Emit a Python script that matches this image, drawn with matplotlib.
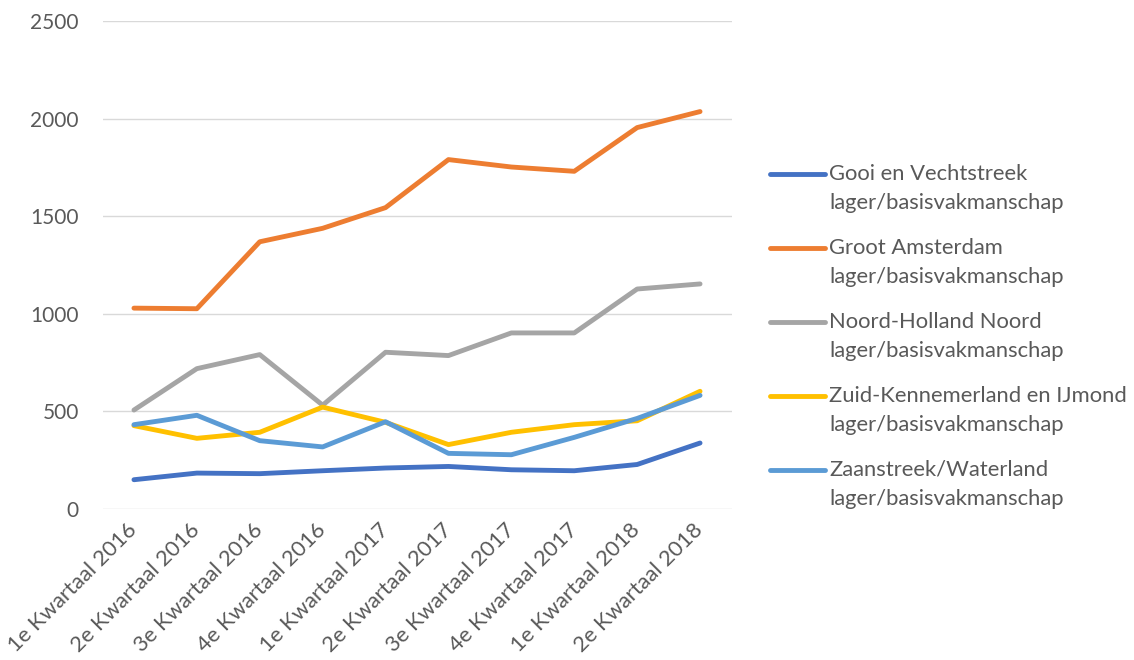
import matplotlib
matplotlib.use("Agg")
import matplotlib.pyplot as plt
from matplotlib.lines import Line2D
import numpy as np

plt.rcParams['font.family'] = ['Lato', 'DejaVu Sans']

categories = ["1e Kwartaal 2016", "2e Kwartaal 2016", "3e Kwartaal 2016", "4e Kwartaal 2016",
              "1e Kwartaal 2017", "2e Kwartaal 2017", "3e Kwartaal 2017", "4e Kwartaal 2017",
              "1e Kwartaal 2018", "2e Kwartaal 2018"]

gooi = [150, 184, 181, 196, 210, 218, 201, 196, 228, 338]
groot_amsterdam = [1029, 1026, 1369, 1438, 1544, 1790, 1752, 1730, 1954, 2036]
noord_holland = [507, 719, 791, 532, 803, 786, 902, 902, 1127, 1153]
zuid_kennemerland = [427, 362, 393, 522, 444, 330, 393, 432, 452, 603]
zaanstreek = [432, 480, 350, 318, 447, 285, 278, 367, 464, 582]

series_names = ["Gooi en Vechtstreek\nlager/basisvakmanschap",
                "Groot Amsterdam\nlager/basisvakmanschap",
                "Noord-Holland Noord\nlager/basisvakmanschap",
                "Zuid-Kennemerland en IJmond\nlager/basisvakmanschap",
                "Zaanstreek/Waterland\nlager/basisvakmanschap"]
series = [gooi, groot_amsterdam, noord_holland, zuid_kennemerland, zaanstreek]
colors = ["#4472C4", "#ED7D31", "#A5A5A5", "#FFC000", "#5B9BD5"]

yticks = [0, 500, 1000, 1500, 2000, 2500]

W, H = 1134, 660
fig = plt.figure(figsize=(W / 100, H / 100), dpi=100)
ax = fig.add_axes([102.5 / W, 1 - 509 / H, (731.5 - 102.5) / W, (509 - 21) / H])

x = np.arange(len(categories))
for vals, c in zip(series, colors):
    ax.plot(x, vals, color=c, lw=3.5, solid_capstyle='round', solid_joinstyle='round', zorder=3)

ax.set_xlim(-0.5, len(categories) - 0.5)
ax.set_ylim(0, 2500)
ax.set_yticks(yticks)
ax.set_yticklabels([str(v) for v in yticks])
ax.grid(axis='y', color='#D9D9D9', lw=1.0)
ax.set_axisbelow(True)
for s in ax.spines.values():
    s.set_visible(False)
ax.tick_params(axis='y', length=0, colors='#595959', labelsize=15, pad=17)
ax.tick_params(axis='x', length=0, colors='#595959', labelsize=15.8, pad=13)
ax.set_xticks(x)
ax.set_xticklabels(categories, rotation=45, ha='right', va='center', rotation_mode='anchor')

# legend
y0 = 174
dy = 74
for i, (name, c) in enumerate(zip(series_names, colors)):
    yc = 1 - (y0 + i * dy) / H
    fig.add_artist(Line2D([770 / W, 825 / W], [yc, yc], color=c, lw=3.5,
                          solid_capstyle='round', transform=fig.transFigure))
    l1, l2 = name.split("\n")
    fig.text(829 / W, yc, l1, ha='left', va='center', fontsize=15.8, color='#595959')
    fig.text(829 / W, yc - 29 / H, l2, ha='left', va='center', fontsize=15.8, color='#595959')

fig.savefig("out.png", dpi=100, facecolor='white')
